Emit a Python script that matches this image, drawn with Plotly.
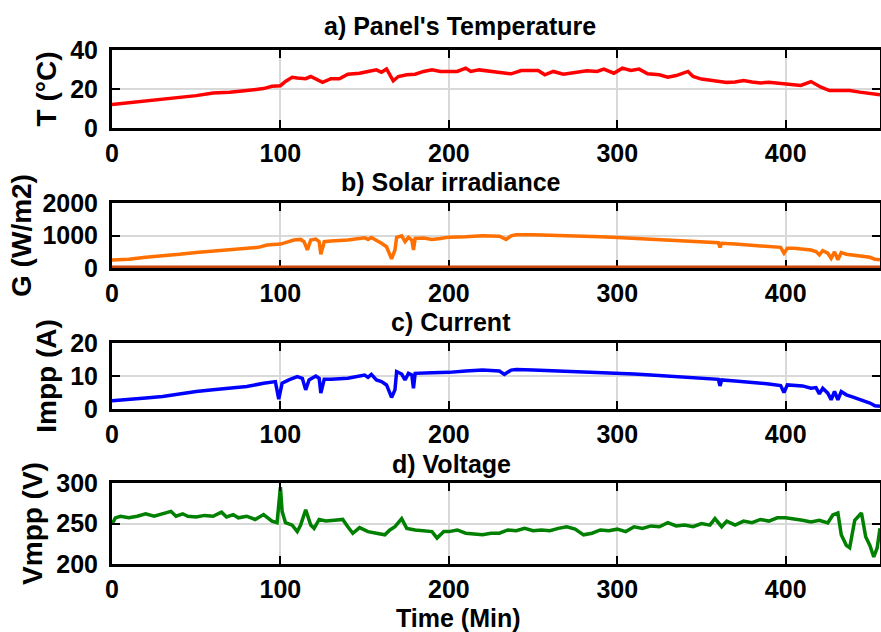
import plotly.graph_objects as go

# ---- data ----
t_temp = [0, 10, 20, 30, 40, 50, 60, 70, 80, 90, 95, 100, 103, 107, 110, 115, 118, 123, 125, 130, 135, 140, 147,
          152, 157, 160, 163, 167, 170, 175, 180, 185, 190, 195, 200, 205, 210, 213, 218, 225, 230, 237, 243, 250,
          253, 257, 262, 268, 275, 282, 288, 292, 298, 303, 308, 313, 318, 325, 330, 335, 342, 345, 350, 355, 360,
          365, 370, 375, 380, 385, 390, 397, 403, 409, 415, 421, 426, 432, 438, 444, 450, 456]
temp = [12.0, 12.9, 14.0, 14.9, 15.4, 16.6, 18.0, 18.3, 19.2, 20.2, 21.4, 21.7, 23.9, 26.0, 25.6, 25.3, 26.4, 23.9,
        23.4, 25.3, 25.3, 27.6, 28.1, 29.0, 29.8, 28.6, 30.3, 24.2, 26.4, 27.3, 27.6, 29.0, 29.8, 29.0, 29.0, 29.0,
        30.7, 29.0, 29.8, 29.0, 28.5, 27.8, 29.5, 29.3, 29.5, 27.3, 29.0, 27.6, 28.5, 29.3, 29.0, 30.2, 28.1, 30.7,
        29.5, 30.2, 27.8, 27.3, 26.1, 26.9, 29.0, 26.4, 25.1, 24.4, 23.9, 23.4, 23.6, 24.4, 23.6, 23.1, 23.4, 22.9,
        22.1, 21.8, 23.8, 20.9, 19.2, 19.0, 19.2, 18.4, 17.9, 17.1]

t_irr = [0, 10, 20, 30, 40, 50, 60, 70, 80, 87, 92, 100, 103, 108, 112, 114, 116, 118, 121, 123, 124, 126, 130, 140,
         150, 152, 154, 157, 160, 163, 165, 166, 168, 169, 172, 174, 176, 178, 179, 180, 185, 190, 195, 200, 210, 220,
         230, 234, 237, 240, 250, 260, 270, 280, 290, 300, 310, 320, 330, 340, 350, 360, 361, 362, 370, 380, 390, 397,
         399, 401, 405, 410, 415, 418, 420, 422, 425, 427, 429, 431, 433, 436, 440, 445, 450, 453, 456]
irr = [250, 270, 330, 370, 420, 480, 525, 565, 605, 635, 705, 735, 780, 860, 880, 810, 555, 860, 890, 810, 425, 810,
       830, 860, 930, 880, 940, 860, 760, 655, 405, 280, 555, 940, 990, 810, 940, 860, 555, 910, 920, 880, 910, 950,
       960, 990, 980, 880, 990, 1020, 1020, 1010, 1000, 980, 960, 940, 910, 890, 860, 830, 810, 780, 635, 760, 735,
       705, 675, 635, 455, 605, 605, 575, 555, 505, 405, 535, 455, 300, 495, 250, 475, 425, 405, 370, 330, 270, 250]
t_irr_base = [0, 456]
irr_base = [0, 0]

t_cur = [0, 10, 20, 30, 40, 50, 60, 70, 80, 90, 97, 99, 101, 105, 110, 113, 115, 117, 121, 123, 124, 126, 130, 140,
         150, 152, 154, 157, 160, 163, 165, 166, 168, 169, 172, 174, 176, 178, 179, 180, 190, 200, 210, 220, 230, 233,
         237, 240, 250, 260, 270, 280, 290, 300, 310, 320, 330, 340, 350, 360, 361, 362, 370, 380, 390, 397, 399, 401,
         410, 415, 418, 420, 422, 425, 427, 429, 431, 433, 436, 440, 445, 450, 453, 456]
cur = [2.5, 2.8, 3.3, 3.8, 4.6, 5.3, 5.8, 6.3, 6.8, 7.8, 8.3, 3.0, 7.8, 8.8, 9.8, 9.3, 5.8, 8.8, 10.0, 9.3, 4.8, 9.0,
       9.0, 9.3, 10.3, 9.6, 10.5, 8.8, 8.3, 7.3, 4.3, 3.5, 5.8, 11.3, 10.6, 8.8, 10.8, 10.3, 6.3, 10.8, 11.0, 11.1,
       11.5, 11.8, 11.5, 10.5, 11.8, 12.0, 11.8, 11.6, 11.5, 11.3, 11.1, 11.0, 10.6, 10.3, 10.0, 9.6, 9.3, 9.0, 7.0,
       8.8, 8.5, 8.1, 7.6, 7.1, 5.0, 7.3, 7.0, 6.3, 6.5, 4.6, 6.3, 4.8, 2.8, 5.3, 2.8, 5.3, 4.3, 3.6, 2.8, 1.8, 1.0, 0.8]

t_volt = [0, 2, 5, 10, 15, 20, 25, 30, 35, 38, 42, 45, 50, 55, 60, 65, 68, 72, 75, 80, 85, 90, 95, 98, 99, 100, 101,
          103, 107, 110, 112, 115, 118, 120, 123, 127, 132, 137, 140, 143, 147, 152, 157, 162, 165, 168, 172, 175, 180,
          185, 190, 193, 197, 200, 205, 210, 215, 220, 225, 230, 235, 240, 245, 250, 255, 260, 265, 270, 275, 280, 285,
          290, 295, 300, 305, 310, 315, 320, 325, 330, 335, 340, 345, 350, 355, 358, 362, 365, 370, 375, 380, 385, 390,
          395, 400, 405, 410, 415, 420, 425, 428, 431, 433, 436, 438, 441, 443, 445, 447.5, 450, 452.3, 454.3, 456]
volt = [249, 257, 259, 257, 259, 262, 259, 262, 265, 259, 262, 259, 258, 260, 259, 264, 258, 261, 257, 259, 255, 261,
        253, 251, 277, 295, 265, 251, 248, 240, 248, 267, 248, 244, 255, 253, 254, 255, 246, 238, 245, 240, 238, 236,
        242, 246, 256, 244, 242, 241, 240, 232, 240, 240, 242, 238, 237, 236, 238, 238, 242, 241, 244, 241, 242, 241,
        244, 246, 243, 236, 238, 242, 241, 243, 240, 246, 244, 247, 246, 251, 247, 248, 246, 250, 248, 256, 246, 253,
        248, 253, 251, 255, 253, 257, 257, 256, 254, 252, 254, 250.6, 260.5, 263, 236, 223, 220, 254, 258, 263, 233.7,
        223, 208.7, 219.7, 244]

x_ticks = [0, 100, 200, 300, 400]
panels = [
    dict(t=t_temp, y=temp, color="#FF0000", yrange=[0, 40], yticks=[0, 20, 40], ytitle="T (°C)",
         title="a) Panel's Temperature"),
    dict(t=t_irr, y=irr, color="#FF7000", yrange=[0, 2000], yticks=[0, 1000, 2000], ytitle="G (W/m2)",
         title="b) Solar irradiance"),
    dict(t=t_cur, y=cur, color="#0000FF", yrange=[0, 20], yticks=[0, 10, 20], ytitle="Impp (A)",
         title="c) Current"),
    dict(t=t_volt, y=volt, color="#008000", yrange=[200, 300], yticks=[200, 250, 300], ytitle="Vmpp (V)",
         title="d) Voltage"),
]

# ---- layout geometry (pixels) ----
W, H = 881, 632
ML, MR = 112, 1
panel_px = [(50, 128), (203, 268), (343, 409), (483, 564)]
title_px = [(460, 26), (451, 182), (451, 322), (451, 464)]
ytitle_standoff = [6, 3, 6, 6]

FONT = "Liberation Sans, Arial, Helvetica, sans-serif"
TICK_SIZE = 25

fig = go.Figure()
layout = dict(width=W, height=H, margin=dict(l=ML, r=MR, t=0, b=0, pad=0), autosize=False,
              paper_bgcolor="white", plot_bgcolor="white", showlegend=False, annotations=[])

axis_common = dict(showline=True, linecolor="black", linewidth=3, mirror="ticks", ticks="inside",
                   ticklen=8, tickwidth=2, tickcolor="black", showgrid=True, gridcolor="#D9D9D9",
                   gridwidth=2, zeroline=False, automargin=False)

for i, p in enumerate(panels):
    n = "" if i == 0 else str(i + 1)
    fig.add_trace(go.Scatter(x=p["t"], y=p["y"], mode="lines", line=dict(color=p["color"], width=3.5),
                             xaxis="x" + n, yaxis="y" + n, hoverinfo="skip"))
    if i == 1:
        fig.add_trace(go.Scatter(x=t_irr_base, y=irr_base, mode="lines", line=dict(color="#C8460F", width=5),
                                 xaxis="x2", yaxis="y2", hoverinfo="skip"))
    top, bot = panel_px[i]
    dom = [1 - bot / H, 1 - top / H]
    layout["xaxis" + n] = dict(axis_common, domain=[0, 1], range=[0, 456], tickvals=x_ticks,
                               anchor="y" + n, ticklabelstandoff=1,
                               layer="below traces" if i == 1 else "above traces",
                               tickfont=dict(family=FONT, size=TICK_SIZE, color="black", weight="bold"))
    layout["yaxis" + n] = dict(axis_common, domain=dom, range=p["yrange"], tickvals=p["yticks"],
                               anchor="x" + n, ticklabelstandoff=6,
                               tickfont=dict(family=FONT, size=TICK_SIZE, color="black", weight="bold"),
                               title=dict(text=p["ytitle"], standoff=ytitle_standoff[i],
                                          font=dict(family=FONT, size=28, color="black", weight="bold")))
    tx, ty = title_px[i]
    layout["annotations"].append(dict(text=p["title"], xref="paper", yref="paper",
                                      x=(tx - ML) / (W - ML - MR), y=1 - ty / H, xanchor="center",
                                      yanchor="middle", showarrow=False,
                                      font=dict(family=FONT, size=TICK_SIZE, color="black", weight="bold")))

layout["annotations"].append(dict(text="Time (Min)", xref="paper", yref="paper",
                                  x=(458 - ML) / (W - ML - MR), y=1 - 618 / H, xanchor="center",
                                  yanchor="middle", showarrow=False,
                                  font=dict(family=FONT, size=TICK_SIZE, color="black", weight="bold")))

fig.update_layout(**layout)
fig.write_html("out.html")
